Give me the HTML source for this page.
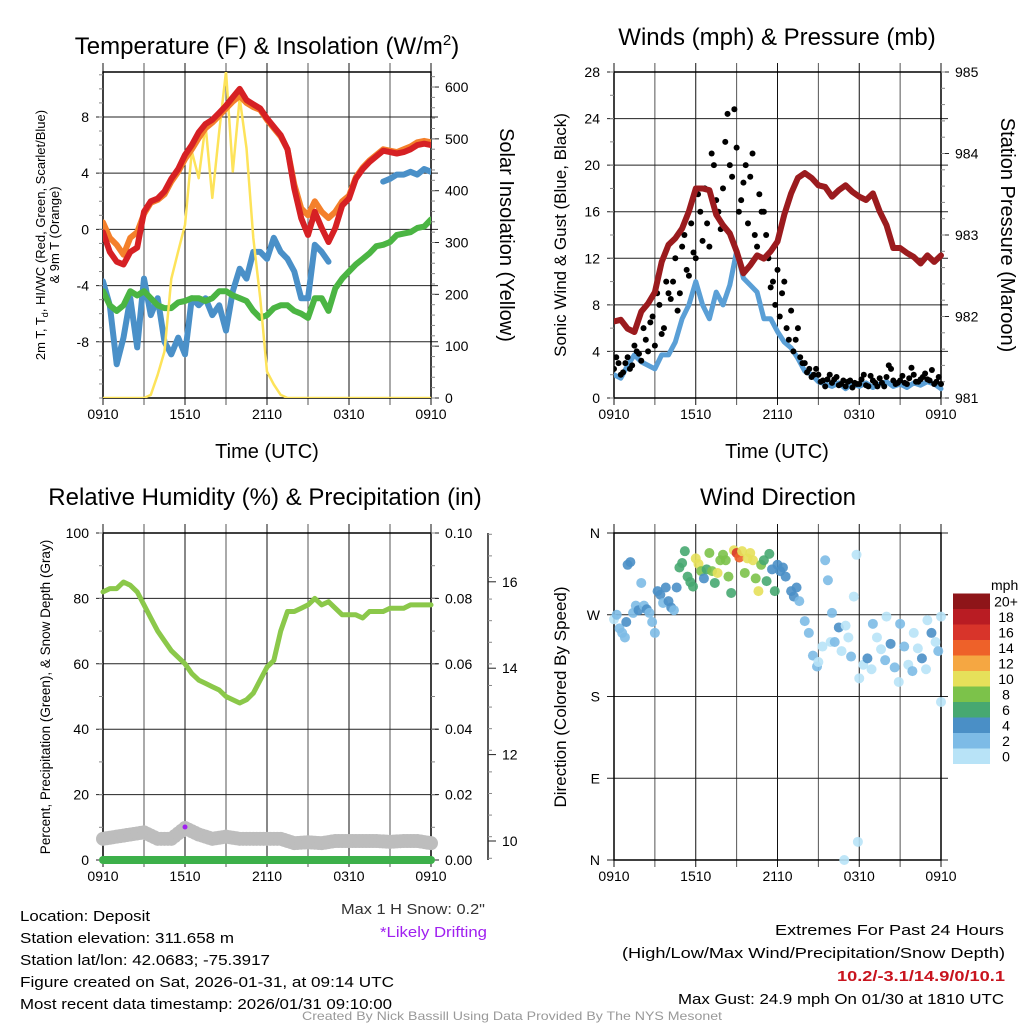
<!DOCTYPE html>
<html><head><meta charset="utf-8"><style>
html,body{margin:0;padding:0;background:#fff;}
svg{display:block;font-family:"Liberation Sans",sans-serif;}
</style></head><body>
<svg id="s" width="1024" height="1024" viewBox="0 0 1024 1024" xmlns="http://www.w3.org/2000/svg">
<rect width="1024" height="1024" fill="#fff"/>
<text x="267" y="54" font-size="24" text-anchor="middle">Temperature (F) &amp; Insolation (W/m<tspan dy="-9" font-size="15">2</tspan><tspan dy="9">)</tspan></text>
<text x="777" y="45" font-size="24" text-anchor="middle">Winds (mph) &amp; Pressure (mb)</text>
<text x="265" y="505" font-size="24" text-anchor="middle">Relative Humidity (%) &amp; Precipitation (in)</text>
<text x="778" y="505" font-size="24" text-anchor="middle">Wind Direction</text>
<text transform="translate(45,235) rotate(-90)" font-size="13" text-anchor="middle">2m T, T<tspan font-size="9" dy="3">d</tspan><tspan dy="-3">, HI/WC (Red, Green, Scarlet/Blue)</tspan></text>
<text transform="translate(59,235) rotate(-90)" font-size="13" text-anchor="middle">&amp; 9m T (Orange)</text>
<text transform="translate(500,235) rotate(90)" font-size="20" text-anchor="middle">Solar Insolation (Yellow)</text>
<text transform="translate(566,235) rotate(-90)" font-size="17" text-anchor="middle">Sonic Wind &amp; Gust (Blue, Black)</text>
<text transform="translate(1001,235) rotate(90)" font-size="20" text-anchor="middle">Station Pressure (Maroon)</text>
<text transform="translate(50,697) rotate(-90)" font-size="13.5" text-anchor="middle">Percent, Precipitation (Green), &amp; Snow Depth (Gray)</text>
<text transform="translate(566,697) rotate(-90)" font-size="17" text-anchor="middle">Direction (Colored By Speed)</text>
<text x="267" y="458" font-size="20" text-anchor="middle">Time (UTC)</text>
<text x="777" y="458" font-size="20" text-anchor="middle">Time (UTC)</text>
<g font-size="15">
<text x="20" y="921" textLength="130" lengthAdjust="spacingAndGlyphs">Location: Deposit</text>
<text x="20" y="943" textLength="214" lengthAdjust="spacingAndGlyphs">Station elevation: 311.658 m</text>
<text x="20" y="965" textLength="250" lengthAdjust="spacingAndGlyphs">Station lat/lon: 42.0683; -75.3917</text>
<text x="20" y="987" textLength="374" lengthAdjust="spacingAndGlyphs">Figure created on Sat, 2026-01-31, at 09:14 UTC</text>
<text x="20" y="1009" textLength="372" lengthAdjust="spacingAndGlyphs">Most recent data timestamp: 2026/01/31 09:10:00</text>
<text x="341" y="914" fill="#333" textLength="144" lengthAdjust="spacingAndGlyphs">Max 1 H Snow: 0.2"</text>
<text x="380" y="937" fill="#a020f0" textLength="107" lengthAdjust="spacingAndGlyphs">*Likely Drifting</text>
<text x="775" y="935" textLength="229" lengthAdjust="spacingAndGlyphs">Extremes For Past 24 Hours</text>
<text x="622" y="958" textLength="383" lengthAdjust="spacingAndGlyphs">(High/Low/Max Wind/Precipitation/Snow Depth)</text>
<text x="837" y="981" fill="#c8141e" font-weight="bold" textLength="168" lengthAdjust="spacingAndGlyphs">10.2/-3.1/14.9/0/10.1</text>
<text x="678" y="1004" textLength="326" lengthAdjust="spacingAndGlyphs">Max Gust: 24.9 mph On 01/30 at 1810 UTC</text>
<text x="302" y="1020" font-size="12" fill="#999" textLength="420" lengthAdjust="spacingAndGlyphs">Created By Nick Bassill Using Data Provided By The NYS Mesonet</text>
</g>
</svg>
<script>
// ---- data (30-min resolution, t = i*0.5 h from 0910 UTC) ----
const xTickLabels=["0910","1510","2110","0310","0910"];
const tempRed=[-0.2,-1.6,-2.3,-2.5,-1.6,-1.3,1.25,2,2.2,2.7,3.6,4.3,5.3,6,6.9,7.5,7.8,8.3,8.8,9.4,10,9.2,8.9,8.6,7.9,7.3,6.7,5.7,2.9,0.8,-0.4,1.25,0.1,-0.9,0.1,1.7,2.2,3.6,4.3,4.8,5.2,5.6,5.5,5.4,5.5,5.7,6,6.1,6];
const tempOrange=[0.5,-0.6,-1.1,-1.8,-0.6,-0.2,1.1,1.9,2.1,2.5,3.4,4.1,5,5.7,6.5,7.2,7.6,8.1,8.6,9.1,9.5,9,8.7,8.5,7.8,7.2,6.6,5.7,3.2,1.5,1,2,1.25,0.8,1.25,2,2.4,3.7,4.4,4.9,5.3,5.7,5.6,5.5,5.7,5.9,6.2,6.3,6.2];
const windChill=[-3.7,-5.4,-9.6,-7.7,-4.9,-8.4,-3.5,-6.1,-4.9,-8,-8.9,-7.7,-8.9,-4.9,-5.4,-4.9,-6.1,-5.4,-7.2,-4.4,-2.8,-3.5,-1.6,-1.6,-2.1,-0.6,-1.6,-2.1,-3,-4.9,-4.9,-1.1,-1.6,-2.3,null,null,null,null,null,null,null,3.4,3.6,3.9,3.9,4.1,3.9,4.3,4.1];
const dewPoint=[-4.4,-5.4,-5.8,-5.4,-4.4,-4.7,-4.4,-4.9,-5.4,-5.6,-5.6,-5.2,-5.1,-4.9,-4.9,-5.1,-4.9,-4.4,-4.4,-4.7,-4.9,-5.1,-5.8,-6.3,-6.1,-5.6,-5.4,-5.4,-5.8,-6,-6.3,-4.9,-4.9,-5.8,-4.2,-3.5,-3,-2.5,-2.1,-1.7,-1.2,-1.1,-0.9,-0.4,-0.3,-0.2,0.1,0.2,0.7];
const solar=[0,0,0,0,0,0,0,6,45,90,230,283,334,476,424,527,386,514,630,437,579,482,309,193,51,26,6,0,0,0,0,0,0,0,0,0,0,0,0,0,0,0,0,0,0,0,0,0,0];
const windSpeed=[2,1.7,2.8,3.7,3.1,2.8,2.5,3.7,3.7,4.8,6.8,8,10,8,6.8,9.1,8,9.7,12.6,10.3,9.7,9.1,6.8,6.8,5.7,4.8,4.3,3.4,2.3,2,1.4,1.2,1,1.3,0.8,1.2,1,1.3,0.9,1.2,1.4,1,1.2,0.9,1.3,1.1,1.4,1.2,0.8];
const pressure=[981.94,981.96,981.85,981.81,982.06,982.16,982.30,982.67,982.88,982.96,983.08,983.29,983.57,983.57,983.55,983.25,983.12,983.02,982.80,982.53,982.63,982.75,982.71,982.80,982.92,983.25,983.51,983.70,983.76,983.70,983.61,983.59,983.47,983.55,983.61,983.53,983.47,983.43,983.51,983.29,983.12,982.84,982.84,982.78,982.73,982.65,982.75,982.67,982.75];
const gustA=[2.5,3,2.2,3.5,2.8,4,3.2,5,6.5,4.5,8,6,9,10,7.5,13,11,15,12,16,18,13,20,16,18,24.4,19,21.5,17,20,19,14,17.5,16,12,10,11,9,6,7.5,5,3.5,3,2.5,2,2,1.5,1.6,1.3,1.8,1.2,1,1.5,1.3,1.2,2,1,1.5,1,1.3,1.8,2.5,1.2,1.5,1.3,1.7,2,1.4,1.8,1.6,2.4,1.4,1.2];
const gustB=[3.5,2,3,2.5,4.5,3.8,6,4,7,9,5.5,10,8.5,12,9,14,10.5,12.5,17.5,13.5,15,21,17,14.5,22,20,24.8,16,18.5,15,21,13,16,14,9.5,8,7,10,5,4,6,3,2.2,1.8,2.5,1.4,1,2,1.6,1.1,1.5,1.4,0.9,1.2,1.6,1.1,1.9,1.3,1.7,1,2.8,1.5,1.3,1.9,1.2,2.6,1.4,1.6,2.1,1.5,1.2,1.8];
const rhTimes=[0,0.5,1,1.5,2,2.5,3,3.5,4,4.5,5,5.5,6,6.5,7,7.5,8,8.5,9,9.5,10,10.5,11,11.5,12,12.5,13,13.5,14,14.5,15,15.5,16,16.5,17,17.5,18,18.5,19,19.5,20,20.5,21,21.5,22,22.5,23,23.5,24];
const rh=[82,83,83,85,84,82,78,74,70,67,64,62,60,57,55,54,53,52,50,49,48,49,51,55,59,61,70,76,76,77,78,80,78,79,77,75,75,75,74,76,76,76,77,77,77,78,78,78,78];
const snowDepth=[10.05,10.1,10.15,10.2,10.05,10.05,10.3,10.15,10.05,10.1,10.05,10.05,10.05,10.05,9.95,9.97,9.95,10,10,10,10,9.98,10,10,9.95];
const precip=[0,0,0,0,0,0,0,0,0,0,0,0,0,0,0,0,0,0,0,0,0,0,0,0,0];
const wdTime=[0,0.2,0.4,0.6,0.8,0.9,1,1.2,1.4,1.6,1.8,2,2.2,2.4,2.6,2.8,3,3.2,3.4,3.6,3.8,4,4.2,4.4,4.6,4.8,5,5.2,5.4,5.6,5.8,6,6.2,6.4,6.6,6.8,7,7.2,7.4,7.6,7.8,8,8.2,8.4,8.6,8.8,9,9.2,9.4,9.6,9.8,10,10.2,10.4,10.6,10.8,11,11.2,11.4,11.6,11.8,12,12.2,12.4,12.6,13,13.2,13.4,13.6,14,14.3,14.6,14.9,15,15.3,15.5,15.7,15.9,16,16.2,16.5,16.7,16.9,17,17.2,17.4,17.6,17.8,17.9,18,18.3,18.6,18.9,19,19.3,19.6,19.9,20,20.3,20.6,20.9,21,21.3,21.6,21.9,22,22.3,22.6,22.9,23,23.3,23.6,23.8,24,24];
const wdDir=[265,270,255,250,245,262,325,328,272,280,275,305,280,276,272,262,250,296,292,283,300,285,278,275,300,322,327,340,312,306,301,332,326,318,310,320,338,318,305,316,330,336,330,312,294,341,338,333,340,316,332,338,330,310,296,325,330,307,337,320,296,325,318,322,312,296,290,300,285,263,250,225,213,218,235,330,308,240,272,240,256,230,0,258,245,224,290,336,20,200,215,222,210,260,245,232,220,268,238,212,196,260,235,215,208,250,233,222,210,264,250,240,230,174,268];
const wdSpeed=[1.5,2.5,2.5,2,2.5,4.5,4.5,4.5,2.5,3,4.5,2.5,3,4.5,2.5,2,2.5,4.5,4.5,3,4.5,4.5,4.5,2.5,5,6.5,7,7,7,6.5,7,11,11,9,5,7,9,9,7,11,9,9,9,9,7,11,17,15,11,9,11,11,11,9,11,9,7,7,7,5,7,5,5,5,5,5,5,5,3,3,3,3,3,1,1,3,3,1,3,3,5,1,1,1,1,3,1,1,1,1,1,5,1,3,1,1,3,1,5,3,1,3,3,1,3,1,1,5,1,1,5,1,3,1,1];
const speedBins=["0","2","4","6","8","10","12","14","16","18","20+"];
const binColors=["#b8e3f7","#7dbbe6","#4a8fc6","#47a871","#7cc24a","#e6e05a","#f5a742","#ee6129","#d8342a","#b91c23","#8e1519"];

const NS="http://www.w3.org/2000/svg";
const svg=document.getElementById('s');
function el(tag,attrs,parent){const e=document.createElementNS(NS,tag);for(const k in attrs)e.setAttribute(k,attrs[k]);(parent||svg).appendChild(e);return e;}
function txt(s,attrs,parent){const e=el('text',attrs,parent);e.textContent=s;return e;}

function makePanel(P,name){
  P.x=t=>P.x0+t*(P.x1-P.x0)/24;
  P.yl=v=>P.y1-(v-P.lmin)*(P.y1-P.y0)/(P.lmax-P.lmin);
  P.yr=v=>P.y1-(v-P.rmin)*(P.y1-P.y0)/(P.rmax-P.rmin);
  const g=el('g',{});
  
  
  for(let h=0;h<=24;h+=3){
    const x=P.x(h);
    el('line',{x1:x,x2:x,y1:P.y0-9,y2:P.y1+7,stroke:h%6==0?'#111':'#555','stroke-width':1},g);
  }
  P.lticks.forEach(v=>{const y=P.yl(v);el('line',{x1:P.x0-7,x2:P.x1+7,y1:y,y2:y,stroke:'#222','stroke-width':1},g);});
  el('rect',{x:P.x0,y:P.y0,width:P.x1-P.x0,height:P.y1-P.y0,fill:'none',stroke:'#000','stroke-width':1.5},g);
  xTickLabels.forEach((s,i)=>{const t=txt(s,{x:P.x(i*6),y:P.y1+21,'font-size':14,'text-anchor':'middle'});
    
    });
  P.lticks.forEach((v,i)=>{const t=txt(P.llabels[i],{x:P.x0-14,y:P.yl(v)+5,'font-size':14,'text-anchor':'end'});
    
    });
  if(P.lminor)P.lminor.forEach(v=>{const y=P.yl(v);el('line',{x1:P.x0-4,x2:P.x0,y1:y,y2:y,stroke:'#888'},g);});
  if(P.rticks){
    P.rticks.forEach((v,i)=>{const y=P.yr(v);el('line',{x1:P.x1,x2:P.x1+8,y1:y,y2:y,stroke:'#222'},g);
      const t=txt(P.rlabels[i],{x:P.x1+14,y:y+5,'font-size':14});
      
      });
    P.rminor.forEach(v=>{const y=P.yr(v);el('line',{x1:P.x1,x2:P.x1+4,y1:y,y2:y,stroke:'#888'},g);});
  }
}
function path(xs,ys,color,w,name,parent){
  let d='',pen=false;
  for(let i=0;i<xs.length;i++){ if(ys[i]==null){pen=false;continue;} d+=(pen?'L':'M')+xs[i].toFixed(1)+','+ys[i].toFixed(1); pen=true;}
  const p=el('path',{d:d,fill:'none',stroke:color,'stroke-width':w,'stroke-linejoin':'round','stroke-linecap':'round'},parent);
  
  
  return p;
}
const half=i=>i*0.5;
const rng=(a,b,s)=>{const r=[];for(let v=a;v<=b+1e-9;v+=s)r.push(+v.toFixed(4));return r;};

// Panel 1
const P1={x0:103,x1:431,y0:72,y1:398,lmin:-12,lmax:11.2,rmin:0,rmax:629,
  lticks:[-8,-4,0,4,8],llabels:["-8","-4","0","4","8"],lminor:rng(-12,11,1),
  rticks:[0,100,200,300,400,500,600],rlabels:["0","100","200","300","400","500","600"],rminor:rng(0,620,20)};
makePanel(P1,'temp');
const clip1=el('clipPath',{id:'c1'});el('rect',{x:P1.x0,y:P1.y0,width:P1.x1-P1.x0,height:P1.y1-P1.y0},clip1);
const g1=el('g',{'clip-path':'url(#c1)'});
path(windChill.map((v,i)=>P1.x(half(i))),windChill.map(v=>v==null?null:P1.yl(v)),'#4a90c8',6,'windchill-line',g1);
path(dewPoint.map((v,i)=>P1.x(half(i))),dewPoint.map(v=>P1.yl(v)),'#4bb543',6,'dewpoint-line',g1);
path(solar.map((v,i)=>P1.x(half(i))),solar.map(v=>P1.yr(v)),'#fde35a',2.5,'solar-line',g1);
path(tempOrange.map((v,i)=>P1.x(half(i))),tempOrange.map(v=>P1.yl(v)),'#f4802b',6,'temp-9m-line',g1);
path(tempRed.map((v,i)=>P1.x(half(i))),tempRed.map(v=>P1.yl(v)),'#d62024',6,'temp-2m-line',g1);

// Panel 2
const P2={x0:614,x1:941,y0:72,y1:398,lmin:0,lmax:28,rmin:981,rmax:985,
  lticks:[0,4,8,12,16,20,24,28],llabels:["0","4","8","12","16","20","24","28"],lminor:rng(0,28,2),
  rticks:[981,982,983,984,985],rlabels:["981","982","983","984","985"],rminor:rng(981,985,0.2)};
makePanel(P2,'wind');
const clip2=el('clipPath',{id:'c2'});el('rect',{x:P2.x0,y:P2.y0-5,width:P2.x1-P2.x0+5,height:P2.y1-P2.y0+10},clip2);
const g2=el('g',{'clip-path':'url(#c2)'});
path(windSpeed.map((v,i)=>P2.x(half(i))),windSpeed.map(v=>P2.yl(v)),'#5a9fd6',5,'sonic-wind-line',g2);
gustA.forEach((v,i)=>{const c=el('circle',{cx:P2.x(i/3),cy:P2.yl(v),r:3,fill:'#000'},g2);
  
  });
gustB.forEach((v,i)=>{const c=el('circle',{cx:P2.x(1/6+i/3),cy:P2.yl(v),r:3,fill:'#000'},g2);
  
  });
path(pressure.map((v,i)=>P2.x(half(i))),pressure.map(v=>P2.yr(v)),'#9b1b1e',6,'pressure-line',g2);

// Panel 3
const P3={x0:103,x1:431,y0:533,y1:860,lmin:0,lmax:100,rmin:0,rmax:0.1,
  lticks:[0,20,40,60,80,100],llabels:["0","20","40","60","80","100"],lminor:rng(0,100,10),
  rticks:[0,0.02,0.04,0.06,0.08,0.1],rlabels:["0.00","0.02","0.04","0.06","0.08","0.10"],rminor:rng(0,0.1,0.01)};
makePanel(P3,'rh');
const snowY=v=>841-(v-10)*43.2;
const ax=el('g',{});


el('line',{x1:488,x2:488,y1:533,y2:860,stroke:'#222','stroke-width':1.5},ax);
[10,12,14,16].forEach(v=>{el('line',{x1:488,x2:496,y1:snowY(v),y2:snowY(v),stroke:'#222'},ax);
  const t=txt(String(v),{x:502,y:snowY(v)+5,'font-size':14},ax);
  
  });
rng(9.6,17.2,0.5).forEach(v=>{if(snowY(v)>=533&&snowY(v)<=860)el('line',{x1:488,x2:492,y1:snowY(v),y2:snowY(v),stroke:'#888'},ax);});
const g3=el('g',{});
for(let i=0;i<snowDepth.length-1;i++){for(let k=0;k<4;k++){const f=k/4;const v=snowDepth[i]*(1-f)+snowDepth[i+1]*f;
  const c=el('circle',{cx:P3.x(i+f),cy:snowY(v),r:7,fill:'#bdbdbd'},g3);
  
  }}
const lastS=el('circle',{cx:P3.x(24),cy:snowY(snowDepth[24]),r:7,fill:'#bdbdbd'},g3);


const drift=el('circle',{cx:P3.x(6),cy:snowY(snowDepth[6])-1,r:2.5,fill:'#a020f0'},g3);


path(precip.map((v,i)=>P3.x(i)),precip.map(v=>P3.yr(v)),'#3db04a',8,'precip-line',g3);
path(rhTimes.map(t=>P3.x(t)),rh.map(v=>P3.yl(v)),'#8bc84a',5,'rh-line',g3);

// Panel 4
const P4={x0:614,x1:941,y0:533,y1:860,lmin:0,lmax:360,
  lticks:[0,90,180,270,360],llabels:["N","E","S","W","N"]};
makePanel(P4,'wdir');
const g4=el('g',{});
wdTime.forEach((t,i)=>{const b=Math.min(10,Math.floor(wdSpeed[i]/2));
  const c=el('circle',{cx:P4.x(t),cy:P4.yl(wdDir[i]),r:5,fill:binColors[b],'fill-opacity':0.9},g4);
  
  });
const leg=el('g',{});


txt('mph',{x:991,y:590,'font-size':14},leg);
speedBins.forEach((s,i)=>{const y=764-(i+1)*15.5;
  const r=el('rect',{x:953,y:y,width:37,height:15.5,fill:binColors[i]},leg);
  
  
  const t=txt(s,{x:1006,y:y+13,'font-size':14,'text-anchor':'middle'},leg);
  
  });
</script>
</body></html>
